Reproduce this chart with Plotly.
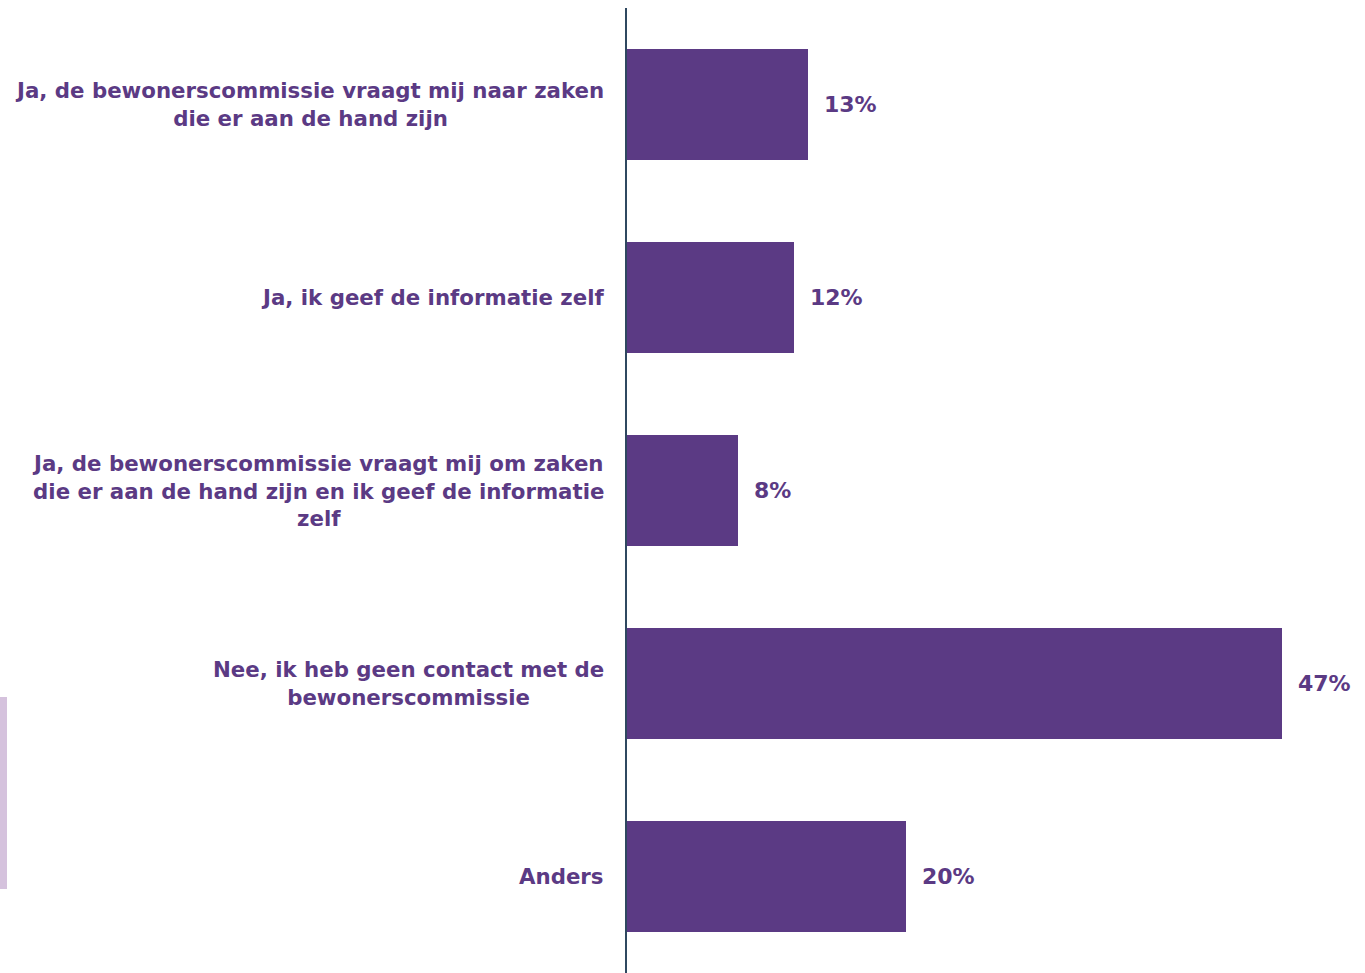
import plotly.graph_objects as go

# Survey answers (top to bottom) and their shares in percent
categories = [
    "Ja, de bewonerscommissie vraagt mij naar zaken<br>die er aan de hand zijn",
    "Ja, ik geef de informatie zelf",
    "Ja, de bewonerscommissie vraagt mij om zaken<br>die er aan de hand zijn en ik geef de informatie<br>zelf",
    "Nee, ik heb geen contact met de<br>bewonerscommissie",
    "Anders",
]
values = [13, 12, 8, 47, 20]
value_labels = [f"{v}%" for v in values]

PURPLE = "#5B3A84"
AXIS = "#2F4860"
FONT = "DejaVu Sans, Verdana, sans-serif"

W, H = 1365, 973
ML, MR, MT, MB = 627, 0, 8, 0

fig = go.Figure(
    go.Bar(
        x=values,
        y=list(range(len(categories))),
        orientation="h",
        marker=dict(color=PURPLE, line=dict(width=0)),
        width=0.58,
        hoverinfo="skip",
    )
)

# Category labels: centred multi-line blocks right-aligned against the axis
for i, cat in enumerate(categories):
    fig.add_annotation(
        x=0, xref="paper", y=i, yref="y",
        text=f"<b>{cat}</b>", showarrow=False,
        xanchor="right", yanchor="middle", align="center", xshift=-21,
        font=dict(family=FONT, size=21.3, color=PURPLE),
    )

# Value labels just past the bar ends
for i, (v, lab) in enumerate(zip(values, value_labels)):
    fig.add_annotation(
        x=v, xref="x", y=i, yref="y",
        text=f"<b>{lab}</b>", showarrow=False,
        xanchor="left", yanchor="middle", xshift=14,
        font=dict(family=FONT, size=22, color=PURPLE),
    )

# Light lavender strip along the left page edge
pw = W - ML - MR
ph = H - MT - MB
fig.add_shape(
    type="rect", xref="paper", yref="paper",
    x0=(0 - ML) / pw, x1=(7 - ML) / pw,
    y0=(H - MB - 889) / ph, y1=(H - MB - 697) / ph,
    fillcolor="#D5C2DD", line=dict(width=0), layer="below",
)

fig.update_layout(
    width=W, height=H,
    margin=dict(l=ML, r=MR, t=MT, b=MB, pad=0),
    paper_bgcolor="white", plot_bgcolor="white",
    showlegend=False,
    bargap=0,
    xaxis=dict(range=[0, pw / (655 / 47)], visible=False, fixedrange=True),
    yaxis=dict(
        range=[len(categories) - 0.5, -0.5],
        showticklabels=False, showgrid=False, zeroline=False,
        showline=True, linecolor=AXIS, linewidth=2, ticks="",
        fixedrange=True,
    ),
)

fig.write_html("out.html", config={"displayModeBar": False})
